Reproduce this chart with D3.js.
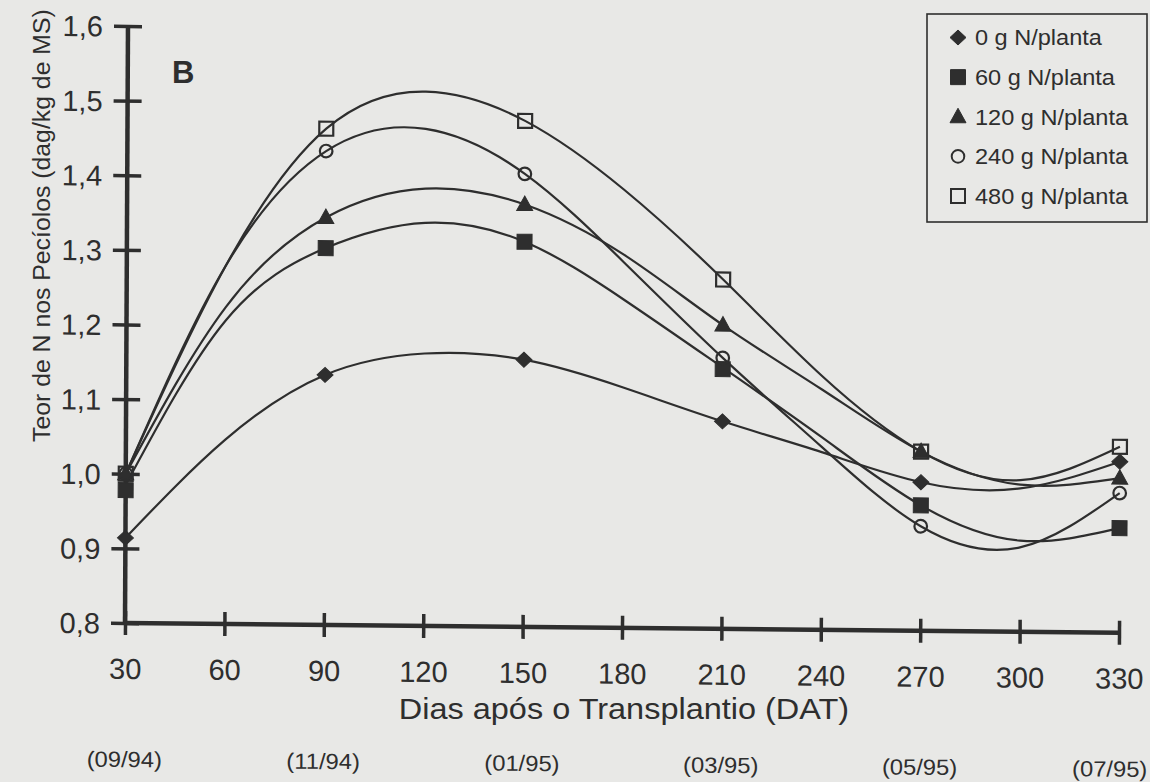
<!DOCTYPE html>
<html>
<head>
<meta charset="utf-8">
<script src="https://cdn.jsdelivr.net/npm/d3@7"></script>
<style>
  html, body { margin: 0; padding: 0; background: #e8e8e6; }
  svg { display: block; font-family: "Liberation Sans", Arial, Helvetica, sans-serif; }
</style>
</head>
<body>
<svg id="chart" width="1150" height="782"></svg>
<script>
// ---------------- DATA ----------------
const seriesNames = ["0 g N/planta", "60 g N/planta", "120 g N/planta", "240 g N/planta", "480 g N/planta"];

const curveDays = [30, 60, 90, 120, 150, 180, 210, 240, 270, 300, 330];
const curve0   = [0.914, 1.047, 1.135, 1.165, 1.158, 1.122, 1.078, 1.038, 0.999, 0.992, 1.029];
const curve60  = [0.985, 1.207, 1.305, 1.340, 1.316, 1.240, 1.150, 1.058, 0.968, 0.922, 0.940];
const curve120 = [1.000, 1.225, 1.346, 1.386, 1.366, 1.300, 1.207, 1.122, 1.040, 0.997, 1.007];
const curve240 = [1.000, 1.281, 1.435, 1.466, 1.407, 1.290, 1.163, 1.045, 0.940, 0.913, 0.987];
const curve480 = [1.000, 1.281, 1.465, 1.516, 1.478, 1.387, 1.268, 1.140, 1.040, 1.003, 1.049];

// observed (marked) values
const markerDays = [30, 90, 150, 210, 270, 330];
const obs0   = [0.914, 1.135, 1.158, 1.078, 0.999, 1.029];
const obs60  = [0.978, 1.305, 1.316, 1.148, 0.968, 0.940];
const obs120 = [1.000, 1.346, 1.366, 1.207, 1.040, 1.007];
const obs240 = [1.000, 1.435, 1.407, 1.163, 0.940, 0.987];
const obs480 = [1.000, 1.465, 1.478, 1.268, 1.040, 1.049];

const xTicks = [30, 60, 90, 120, 150, 180, 210, 240, 270, 300, 330];
const yTicks = [0.8, 0.9, 1.0, 1.1, 1.2, 1.3, 1.4, 1.5, 1.6];
const yTickLabels = ["0,8", "0,9", "1,0", "1,1", "1,2", "1,3", "1,4", "1,5", "1,6"];
const dateDays = [30, 90, 150, 210, 270, 330];
const dateLabels = ["(09/94)", "(11/94)", "(01/95)", "(03/95)", "(05/95)", "(07/95)"];

const xTitle = "Dias após o Transplantio (DAT)";
const yTitle = "Teor de N nos Pecíolos (dag/kg de MS)";
const panelLabel = "B";

// ---------------- DRAW ----------------
const ink = "#2e2e2e";
const svg = d3.select("#chart");

const x0 = 125, x1 = 1119, yBottom = 623, yTop = 26;
const x = d3.scaleLinear().domain([30, 330]).range([x0, x1]);
const y = d3.scaleLinear().domain([0.8, 1.6]).range([yBottom, yTop]);

// horizontally widened text (the scanned type is a little wide)
function placeWide(sel, px, py, sx) {
  sel.attr("x", 0).attr("y", 0).attr("transform", `translate(${px},${py}) scale(${sx},1)`);
}

// the scanned figure is slightly skewed; reproduce with an affine transform around the origin
const plot = svg.append("g")
  .attr("transform", `translate(${x0},${yBottom}) matrix(1,0.0097,-0.005,1,0,0) translate(${-x0},${-yBottom})`);

// Y axis
const yAxis = d3.axisLeft(y).tickValues(yTicks).tickSize(0).tickFormat((d, i) => yTickLabels[i]);
const gy = plot.append("g").attr("transform", `translate(${x0},0)`).call(yAxis);
gy.select(".domain").remove();
gy.selectAll(".tick text").attr("x", -25).attr("dy", "0.35em")
  .attr("font-size", 29).attr("fill", ink).attr("font-family", "Liberation Sans, Arial, sans-serif");
gy.selectAll(".tick").append("line").attr("x1", -14).attr("x2", 14)
  .attr("stroke", ink).attr("stroke-width", 3.5);
plot.append("line").attr("x1", x0).attr("x2", x0).attr("y1", y(1.6)).attr("y2", y(0.8))
  .attr("stroke", ink).attr("stroke-width", 4.5);

// X axis
const xAxis = d3.axisBottom(x).tickValues(xTicks).tickSize(0).tickFormat(d3.format("d"));
const gx = plot.append("g").attr("transform", `translate(0,${yBottom})`).call(xAxis);
gx.select(".domain").remove();
gx.selectAll(".tick text").attr("y", 56).attr("dy", 0)
  .attr("font-size", 29).attr("fill", ink).attr("font-family", "Liberation Sans, Arial, sans-serif");
gx.selectAll(".tick").append("line").attr("y1", -12).attr("y2", 12)
  .attr("stroke", ink).attr("stroke-width", 3.5);
plot.append("line").attr("x1", x(30)).attr("x2", x(330)).attr("y1", yBottom).attr("y2", yBottom)
  .attr("stroke", ink).attr("stroke-width", 4.5);

// date labels
const dateSx = 1.08, dateFont = 22;
plot.append("g").selectAll("text").data(dateLabels).join("text")
  .attr("text-anchor", "middle").attr("font-size", dateFont).attr("fill", ink)
  .text(d => d)
  .each(function (d, i) {
    const half = this.getComputedTextLength() * dateSx / 2;
    const cx = Math.min(x(dateDays[i]), 1150 - half - 2);
    placeWide(d3.select(this), cx, yBottom + 144, dateSx);
  });

// curves
const curves = [curve0, curve60, curve120, curve240, curve480];
const line = d3.line().x(d => x(d[0])).y(d => y(d[1])).curve(d3.curveNatural);
plot.append("g").selectAll("path").data(curves).join("path")
  .attr("d", c => line(curveDays.map((dd, i) => [dd, c[i]])))
  .attr("fill", "none").attr("stroke", ink).attr("stroke-width", 2.2);

// markers
const obs = [obs0, obs60, obs120, obs240, obs480];
function markerPath(kind, cx, cy) {
  switch (kind) {
    case 0: return `M${cx - 8},${cy}L${cx},${cy - 7.5}L${cx + 8},${cy}L${cx},${cy + 7.5}Z`;
    case 1: return `M${cx - 7.5},${cy - 7.5}h15v15h-15Z`;
    case 2: return `M${cx},${cy - 8.5}L${cx + 8},${cy + 6}L${cx - 8},${cy + 6}Z`;
    case 3: return `M${cx - 6.3},${cy}a6.3,6.3 0 1,0 12.6,0a6.3,6.3 0 1,0 -12.6,0Z`;
    case 4: return `M${cx - 7},${cy - 7}h14v14h-14Z`;
  }
}
const filled = [true, true, true, false, false];
obs.forEach((arr, k) => {
  plot.append("g").selectAll("path").data(arr).join("path")
    .attr("d", (v, i) => markerPath(k, x(markerDays[i]), y(v)))
    .attr("fill", filled[k] ? ink : "none")
    .attr("stroke", ink).attr("stroke-width", filled[k] ? 1 : 2.2);
});

// panel label
svg.append("text").attr("x", 172).attr("y", 83).attr("font-size", 31).attr("font-weight", "bold")
  .attr("fill", ink).text(panelLabel);

// axis titles
const xt = svg.append("text").attr("text-anchor", "middle")
  .attr("font-size", 29).attr("fill", ink).text(xTitle);
placeWide(xt, 624, 719, 1.12);
svg.append("text").attr("transform", "translate(50,442) rotate(-90)")
  .attr("text-anchor", "start").attr("font-size", 24.8).attr("fill", ink).text(yTitle);

// legend
const legend = svg.append("g");
legend.append("rect").attr("x", 927).attr("y", 14).attr("width", 220).attr("height", 208)
  .attr("fill", "none").attr("stroke", ink).attr("stroke-width", 1.6);
const legendY = d3.scalePoint().domain(seriesNames).range([37.5, 196]);
seriesNames.forEach((name, k) => {
  const cy = legendY(name);
  legend.append("path").attr("d", markerPath(k, 958, cy))
    .attr("fill", filled[k] ? ink : "none").attr("stroke", ink).attr("stroke-width", filled[k] ? 1 : 2);
  const t = legend.append("text").attr("font-size", 22).attr("fill", ink).text(name);
  placeWide(t, 975, cy + 7.8, 1.07);
});
</script>
</body>
</html>
